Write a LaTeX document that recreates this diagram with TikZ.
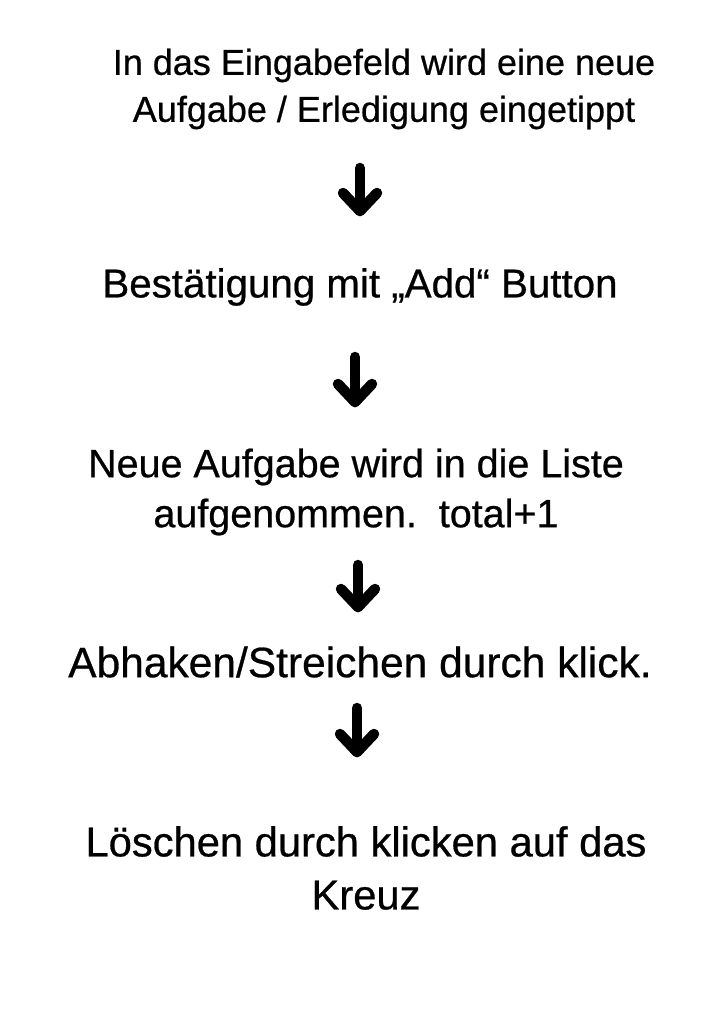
\documentclass[tikz,border=0pt]{standalone}
\usepackage{fontspec}
\setmainfont[FakeBold=0.6]{Liberation Sans}
\usetikzlibrary{calc}
\tikzset{
  txt/.style={inner sep=0pt, align=center, text=black},
  arr/.style={line width=10.5pt, line cap=round, line join=round, black}
}
\begin{document}
\begin{tikzpicture}[x=1pt,y=-1pt]
\useasboundingbox[fill=white] (0,0) rectangle (724,1024);
\node[txt, font=\fontsize{36}{47}\selectfont] (t1) at (384,89) {In das Eingabefeld wird eine neue\\Aufgabe / Erledigung eingetippt};
\node[txt, font=\fontsize{40.3}{50}\selectfont] (t2) at (360,287) {Bestätigung mit „Add“ Button};
\node[txt, font=\fontsize{39.5}{50}\selectfont] (t3) at (356,492) {Neue Aufgabe wird in die Liste\\aufgenommen.\ \ total+1};
\node[txt, font=\fontsize{42.5}{50}\selectfont] (t4) at (360,662) {Abhaken/Streichen durch klick.};
\node[txt, font=\fontsize{41.7}{53}\selectfont] (t5) at (366,868) {Löschen durch klicken auf das\\Kreuz};
\coordinate (a1s) at (360,168); \coordinate (a1e) at (360,211);
\coordinate (a2s) at (355,357); \coordinate (a2e) at (355,402);
\coordinate (a3s) at (358,565); \coordinate (a3e) at (358,607);
\coordinate (a4s) at (357,708); \coordinate (a4e) at (357,752);
\foreach \a in {1,2,3,4}{
  \draw[arr] (a\a s) -- (a\a e);
  \draw[arr] ($(a\a e)+(-17,-18)$) -- (a\a e) -- ($(a\a e)+(17,-18)$);
}
\end{tikzpicture}
\end{document}
